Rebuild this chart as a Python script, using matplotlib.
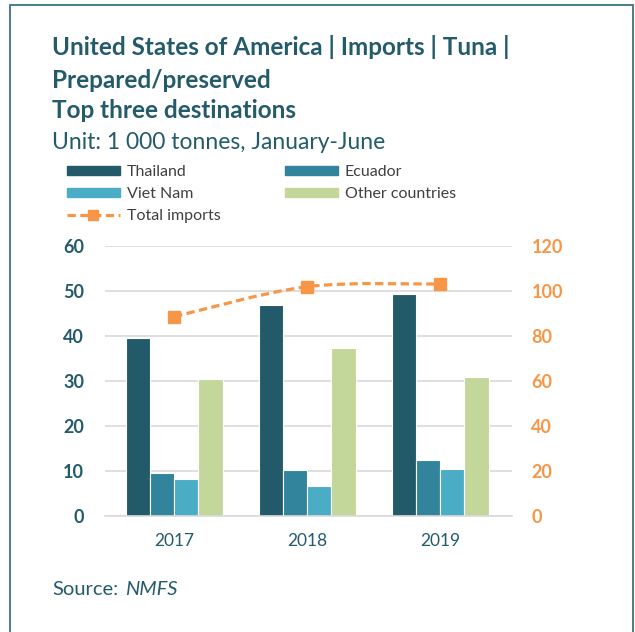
import matplotlib.pyplot as plt
import numpy as np
from matplotlib.patches import Rectangle, Patch, PathPatch
from matplotlib.path import Path
from matplotlib.lines import Line2D

plt.rcParams['font.family'] = ['Lato', 'DejaVu Sans']

years = ['2017', '2018', '2019']
thailand = [39.5, 46.9, 49.4]
ecuador = [9.6, 10.3, 12.4]
viet_nam = [8.2, 6.7, 10.4]
other = [30.5, 37.3, 30.9]
total_imports = [88.6, 101.9, 103.1]

series_names = ['Thailand', 'Ecuador', 'Viet Nam', 'Other countries']
series_colors = ['#235A6A', '#31849B', '#4BACC6', '#C4D79B']
orange = '#F79646'
teal_text = '#245B6B'

W, H = 635, 632
fig = plt.figure(figsize=(W / 100, H / 100), dpi=100)

# outer frame
fig.patches.append(Rectangle((10 / W, -0.05), (633 - 10) / W, 1.05 - 5 / H,
                             transform=fig.transFigure, fill=False,
                             edgecolor='#3D7480', linewidth=1.3))

fig.text(52 / W, 1 - 55 / H, 'United States of America | Imports | Tuna |',
         fontsize=17.5, fontweight='bold', color=teal_text, va='baseline')
fig.text(52 / W, 1 - 88 / H, 'Prepared/preserved',
         fontsize=17.5, fontweight='bold', color=teal_text, va='baseline')
fig.text(52 / W, 1 - 118 / H, 'Top three destinations',
         fontsize=17.5, fontweight='bold', color=teal_text, va='baseline')
fig.text(52 / W, 1 - 149 / H, 'Unit: 1 000 tonnes, January-June',
         fontsize=16.5, color=teal_text, va='baseline')
fig.text(52 / W, 1 - 595 / H, 'Source:', fontsize=14.5, color=teal_text, va='baseline')
fig.text(125 / W, 1 - 595 / H, 'NMFS', fontsize=14.5, color=teal_text,
         va='baseline', style='italic')

ax = fig.add_axes([105 / W, 1 - 516 / H, (512 - 105) / W, (516 - 246) / H])
ax2 = ax.twinx()

x = np.arange(len(years))
width = 0.182
data = [thailand, ecuador, viet_nam, other]
for i, (vals, col) in enumerate(zip(data, series_colors)):
    ax.bar(x + (i - 1.5) * width, vals, width, color=col,
           edgecolor='white', linewidth=0.8, zorder=2)

ax.set_ylim(0, 60)
ax.set_yticks(range(0, 61, 10))
ax.set_xlim(-0.52, 2.54)
ax.set_xticks(x)
ax.set_xticklabels(years)
ax.grid(axis='y', color='#D9D9D9', linewidth=1.2, zorder=0)
ax.set_axisbelow(True)
for s in ['top', 'right', 'left']:
    ax.spines[s].set_visible(False)
ax.spines['bottom'].set_color('#D9D9D9')
ax.spines['bottom'].set_linewidth(1.2)
ax.tick_params(axis='both', length=0)
ax.tick_params(axis='y', pad=15, labelsize=13, labelcolor=teal_text)
ax.tick_params(axis='x', pad=12, labelsize=12.5, labelcolor=teal_text)
for lab in ax.get_yticklabels():
    lab.set_fontweight('bold')

# smooth dashed total line
pts = np.column_stack([x, total_imports]).astype(float)
ext = np.vstack([pts[0], pts, pts[-1]])
verts = [tuple(pts[0])]
codes = [Path.MOVETO]
for k in range(len(pts) - 1):
    p0, p1, p2, p3 = ext[k], ext[k + 1], ext[k + 2], ext[k + 3]
    c1 = p1 + (p2 - p0) / 6
    c2 = p2 - (p3 - p1) / 6
    verts += [tuple(c1), tuple(c2), tuple(p2)]
    codes += [Path.CURVE4] * 3
ax2.add_patch(PathPatch(Path(verts, codes), fill=False, edgecolor=orange,
                        linewidth=2.3, linestyle=(0, (2.6, 1.4)), zorder=3))
ax2.plot(x, total_imports, linestyle='none', marker='s', markersize=8.5,
         color=orange, zorder=4)
ax2.set_ylim(0, 120)
ax2.set_yticks(range(0, 121, 20))
for s in ['top', 'right', 'left', 'bottom']:
    ax2.spines[s].set_visible(False)
ax2.tick_params(axis='y', length=0, pad=14, labelsize=13, labelcolor=orange)
for lab in ax2.get_yticklabels():
    lab.set_fontweight('bold')

# legend in two separately placed columns
leg_kw = dict(loc='upper left', frameon=False, fontsize=11.5, handlelength=3.3,
              handleheight=0.5, handletextpad=0.45, labelspacing=0.5,
              borderaxespad=0, borderpad=0)
col1 = [Patch(color=series_colors[0]), Patch(color=series_colors[2]),
        Line2D([], [], color=orange, linestyle=(0, (2.6, 1.4)), linewidth=2.3,
               marker='s', markersize=7)]
col2 = [Patch(color=series_colors[1]), Patch(color=series_colors[3])]
leg1 = fig.legend(col1, ['Thailand', 'Viet Nam', 'Total imports'],
                  bbox_to_anchor=(67 / W, 1 - 165 / H), **leg_kw)
leg2 = fig.legend(col2, ['Ecuador', 'Other countries'],
                  bbox_to_anchor=(285 / W, 1 - 165 / H), **leg_kw)
for leg in (leg1, leg2):
    for t in leg.get_texts():
        t.set_color('#404040')

fig.savefig('out.png', dpi=100)
